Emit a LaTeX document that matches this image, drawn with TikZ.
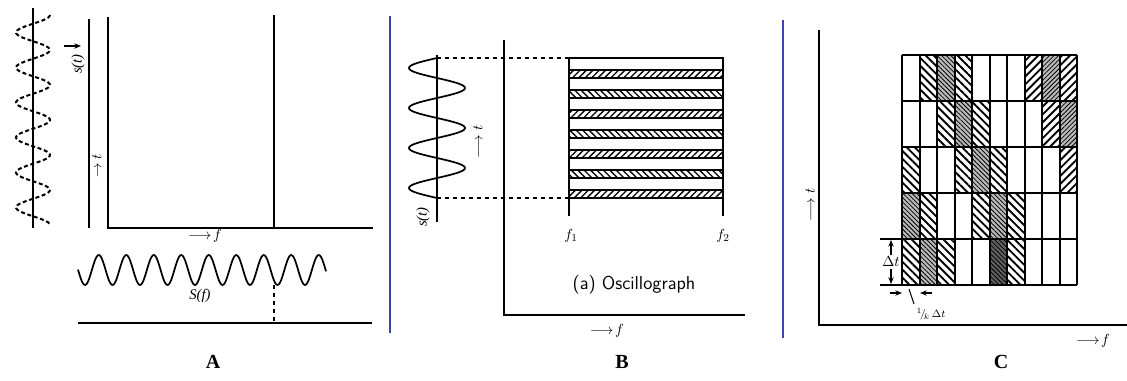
\documentclass[tikz,border=0pt]{standalone}
\usepackage{fontspec}
\setmainfont{Liberation Serif}
\usetikzlibrary{patterns.meta,arrows.meta}
\definecolor{rulerblue}{RGB}{58,68,175}
\begin{document}
\begin{tikzpicture}[x=0.75pt,y=-0.75pt,>={Stealth[length=5pt,width=4pt]},
  axis/.style={line width=1.4pt},
  wave/.style={line width=1.3pt},
  divider/.style={rulerblue,line width=1.6pt},
  lbl/.style={font=\itshape\fontsize{11}{13}\selectfont,inner sep=1pt},
  panel/.style={font=\bfseries\fontsize{15}{18}\selectfont},
  dimarrow/.style={->,line width=1pt},
  bandf/.style={draw,line width=1.3pt,pattern={Lines[angle=45,distance=3.4pt,line width=1pt]}},
  bandb/.style={draw,line width=1.3pt,pattern={Lines[angle=-45,distance=3.4pt,line width=1pt]}},
  hatchb/.style={pattern={Lines[angle=-45,distance=4.2pt,line width=1.4pt]}},
  hatchf/.style={pattern={Lines[angle=45,distance=4.2pt,line width=1.4pt]}},
  gridline/.style={line width=1.5pt}]
\useasboundingbox (0,0) rectangle (1127,381);

% A: signal and spectrum
\draw[axis] (33,8) -- (33,228);
\draw[wave,line width=1.5pt,dash pattern=on 3pt off 2pt] plot[domain=15:225,samples=150,smooth] ({33+17*cos(10.2857*(\x-15))},\x);
\draw[axis] (89,19) -- (89,228);
\coordinate (oA) at (108,228);
\draw[axis] (108,17) -- (oA) -- (373,228);
\draw[axis] (274,15) -- (274,228);
\coordinate (sArr) at (64,46);
\draw[dimarrow] (sArr) -- (81,46);
\node[lbl,rotate=90] (sA) at (78,64) {s(t)};
\node[lbl,rotate=90] (tA) at (97,166) {$\rightarrow t$};
\node[lbl] (fA) at (205,236) {$\longrightarrow\! f$};
\draw[wave] plot[domain=78:326,samples=200,smooth] (\x,{270+15*cos(13.0909*(\x-85))});
\node[lbl] (SA) at (200,296) {S(f)};
\coordinate (pA) at (274,323);
\draw[axis,dashed] (274,285) -- (pA);
\draw[axis] (78,323) -- (372,323);
\node[panel] (A) at (213,362) {A};

% B: oscillograph
\draw[divider] (390,16) -- (390,333);
\draw[line width=1pt] (437,55) -- (437,222);
\draw[wave] plot[domain=58:198,samples=150,smooth] ({437-28*sin(9*(\x-58))},\x);
\node[lbl,rotate=90] (sB) at (423,217) {s(t)};
\node[lbl,rotate=90] (tB) at (478,142) {$\longrightarrow t$};
\coordinate (oB) at (504,315);
\draw[axis] (504,40) -- (oB) -- (745,315);
\node[lbl] (fB) at (607,331) {$\longrightarrow\! f$};
\coordinate (ul) at (569,58);
\coordinate (ll) at (569,198);
\draw[axis,dashed] (437,58) -- (ul);
\draw[axis,dashed] (437,198) -- (ll);
\foreach \k in {0,...,6}{
  \ifodd\k
    \path[bandb] (569,{70+20*\k}) rectangle (723,{78+20*\k});
  \else
    \path[bandf] (569,{70+20*\k}) rectangle (723,{78+20*\k});
  \fi
}
\draw[axis] (569,216) -- (ul) -- (723,58) -- (723,216);
\draw[axis] (ll) -- (723,198);
\node[lbl] (f1) at (571,236) {$f_1$};
\node[lbl] (f2) at (723,236) {$f_2$};
\node[font=\sffamily\fontsize{14}{16}\selectfont] (osc) at (634,285) {(a) Oscillograph};
\node[panel] (B) at (622,362) {B};

% C: time-frequency cells
\draw[divider] (783,20) -- (783,338);
\coordinate (oC) at (819,325);
\draw[axis] (819,30) -- (oC) -- (1127,325);
\node[lbl,rotate=90] (tC) at (810,205) {$\longrightarrow t$};
\node[lbl] (fC) at (1093,341) {$\longrightarrow\! f$};
\foreach \c/\r in {3/1,4/2,5/3,1/4,6/4,2/5,9/1,10/2}
  \fill[gray!55] ({902+17.5*(\c-1)},{55+46*(\r-1)}) rectangle ++(17.5,46);
\fill[gray!75!black] (989.5,239) rectangle ++(17.5,46);
\foreach \c/\r in {2/1,4/1,3/2,5/2,1/3,4/3,6/3,2/4,5/4,7/4,1/5,3/5,7/5}
  \path[hatchb] ({902+17.5*(\c-1)},{55+46*(\r-1)}) rectangle ++(17.5,46);
\foreach \c/\r in {8/1,10/1,9/2,10/3}
  \path[hatchf] ({902+17.5*(\c-1)},{55+46*(\r-1)}) rectangle ++(17.5,46);
\foreach \c/\r in {3/1,4/2,5/3,1/4,6/4,2/5,6/5}
  \path[pattern={Lines[angle=-45,distance=2.4pt,line width=0.6pt]}] ({902+17.5*(\c-1)},{55+46*(\r-1)}) rectangle ++(17.5,46);
\foreach \c/\r in {9/1,10/2}
  \path[pattern={Lines[angle=45,distance=2.4pt,line width=0.6pt]}] ({902+17.5*(\c-1)},{55+46*(\r-1)}) rectangle ++(17.5,46);
\foreach \i in {0,...,10}
  \draw[gridline] ({902+17.5*\i},55) -- ({902+17.5*\i},285);
\foreach \j in {0,...,5}
  \draw[gridline] (902,{55+46*\j}) -- (1077,{55+46*\j});
% cell size marks
\coordinate (dtTop) at (880,239);
\coordinate (dtBot) at (880,285);
\draw[line width=1pt] (dtTop) -- (902,239);
\draw[line width=1pt] (dtBot) -- (902,285);
\node[lbl] (dt) at (891,262) {$\Delta t$};
\draw[dimarrow] (dt.north) -- (891,240);
\draw[dimarrow] (dt.south) -- (891,284);
\coordinate (wl) at (890,293);
\coordinate (wr) at (932,293);
\draw[dimarrow] (wl) -- (902,293);
\draw[dimarrow] (wr) -- (920,293);
\node[lbl,font=\itshape\footnotesize] (dw) at (931,314) {${}^1\!/\!_k\,\Delta t$};
\draw[line width=0.8pt] (909,289) -- (914,304);
\node[panel] (C) at (1001,362) {C};
\end{tikzpicture}
\end{document}
